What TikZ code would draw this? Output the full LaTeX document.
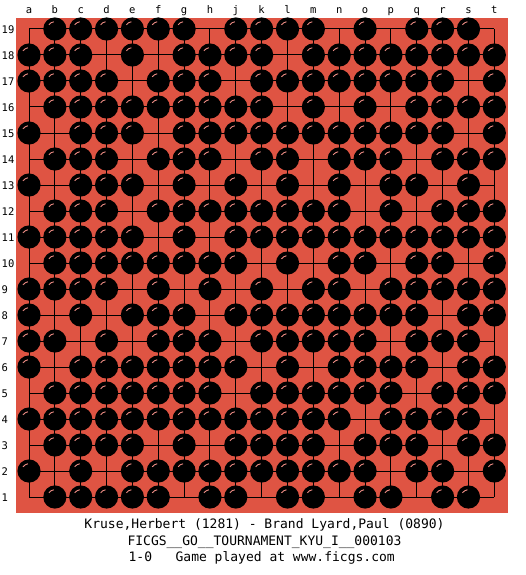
\documentclass[tikz,border=0pt]{standalone}
\usepackage{fontspec}
\setmonofont{DejaVu Sans Mono}
\definecolor{boardred}{RGB}{223,84,67}
\definecolor{shine}{RGB}{236,140,132}
\begin{document}
\begin{tikzpicture}[x=1pt,y=-1pt,
  gridline/.style={black,line width=1pt},
  stone/.style={fill=black},
  glint/.style={draw=shine,line width=0.9pt},
  coordlabel/.style={font=\ttfamily\fontsize{10.5}{12}\selectfont,inner sep=0pt},
  infotext/.style={font=\ttfamily\fontsize{13}{15}\selectfont,inner sep=0pt,anchor=base}]
\useasboundingbox (0,0) rectangle (525,575);
\fill[white] (0,0) rectangle (525,575);
\fill[boardred] (16,18) rectangle (508,513);
% grid
\foreach \i in {0,...,18} {
  \draw[gridline] ({29+25.85*\i},29) -- ({29+25.85*\i},497);
  \draw[gridline] (29,{29+26*\i}) -- (494.3,{29+26*\i});
}
% column letters
\foreach \l [count=\k from 0] in {a,b,c,d,e,f,g,h,j,k,l,m,n,o,p,q,r,s,t}
  \node[coordlabel,anchor=base] (col\k) at ({29+25.85*\k},14) {\l};
% row numbers
\foreach \r in {1,...,19}
  \node[coordlabel,anchor=base west] (row\r) at (1.5,{29+26*(19-\r)+4.3}) {\r};
% stones
\foreach \r/\cs in {
  19/{1,2,3,4,5,6,8,9,10,11,13,15,16,17},
  18/{0,1,2,4,6,7,8,9,11,12,13,14,15,16,17,18},
  17/{0,1,2,3,5,6,7,9,10,11,12,13,14,15,16,18},
  16/{1,2,3,4,5,6,7,8,9,11,13,15,16,17,18},
  15/{0,2,3,4,6,7,8,9,10,11,12,13,14,15,16,18},
  14/{1,2,3,5,6,7,9,10,12,13,14,16,17,18},
  13/{0,2,3,4,6,8,10,12,14,15,17},
  12/{1,2,3,5,6,7,8,9,10,11,12,14,16,17,18},
  11/{0,1,2,3,4,6,8,9,10,11,12,13,14,15,16,17,18},
  10/{1,2,3,4,5,6,7,8,10,12,13,15,16,18},
  9/{0,1,2,3,5,7,9,11,12,14,15,16,17,18},
  8/{0,2,4,5,6,8,9,10,11,12,13,14,15,17,18},
  7/{0,1,3,5,6,7,9,10,11,12,13,15,16,17},
  6/{0,2,3,4,5,6,7,8,10,12,13,14,15,17,18},
  5/{1,2,3,4,5,6,7,9,10,11,12,13,14,16,17,18},
  4/{0,1,2,3,4,5,6,7,8,9,10,11,12,14,15,16,17},
  3/{1,2,3,4,6,8,9,10,11,13,14,15,17,18},
  2/{0,2,4,5,6,7,8,9,10,11,12,13,15,16,18},
  1/{1,2,3,4,5,7,8,10,11,13,14,16,17}} {
  \foreach \c in \cs {
    \fill[stone] ({29+25.85*\c},{29+26*(19-\r)}) circle[radius=11.6];
    \draw[glint] ({29+25.85*\c+7.3*cos(215)},{29+26*(19-\r)+7.3*sin(215)})
      arc[start angle=215,end angle=262,radius=7.3];
  }
}
% info text
\node[infotext] (players) at (264.5,528.3) {Kruse,Herbert (1281) - Brand Lyard,Paul (0890)};
\node[infotext] (event) at (264.5,545) {FICGS\_\_GO\_\_TOURNAMENT\_KYU\_I\_\_000103};
\node[infotext] (result) at (261.7,561.7) {1-0\ \ \ Game played at www.ficgs.com};
\end{tikzpicture}
\end{document}
